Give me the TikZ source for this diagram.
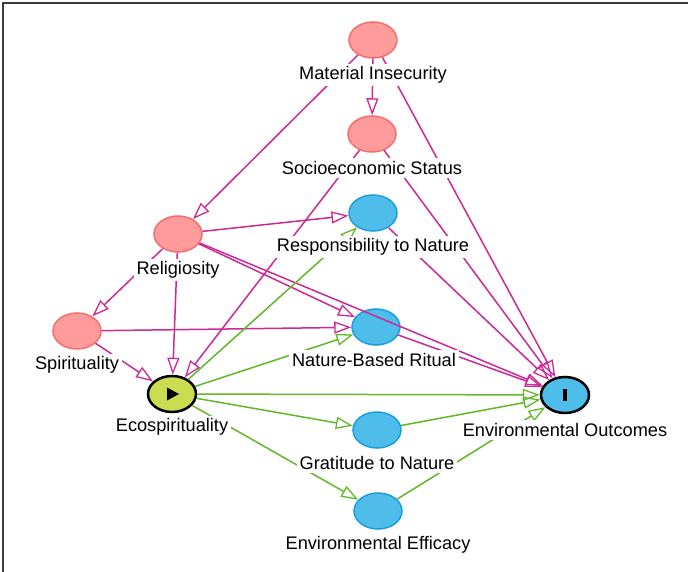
\documentclass[tikz,border=0pt]{standalone}
\usepackage{fontspec}
\setmainfont{Liberation Sans}
\usetikzlibrary{arrows.meta,shapes.geometric}
\definecolor{colBias}{RGB}{204,40,150}
\definecolor{colCausal}{RGB}{96,184,40}
\definecolor{colAnc}{RGB}{255,155,155}
\definecolor{colAncB}{RGB}{245,110,110}
\definecolor{colMed}{RGB}{78,189,233}
\definecolor{colMedB}{RGB}{28,158,220}
\definecolor{colExpo}{RGB}{202,220,80}
\definecolor{colFrame}{RGB}{60,60,60}
\begin{document}
\begin{tikzpicture}[x=1pt,y=-1pt,
  vtx/.style={ellipse,minimum width=48pt,minimum height=36pt,inner sep=0pt,line width=1.5pt},
  ancnode/.style={vtx,fill=colAnc,draw=colAncB},
  mednode/.style={vtx,fill=colMed,draw=colMedB},
  keynode/.style={vtx,draw=black,line width=2.5pt},
  lbl/.style={fill=white,inner sep=3pt,font=\fontsize{18.2}{21}\selectfont},
  edge/.style={line width=1.5pt,-{Triangle[open,length=17pt,width=12pt,line width=1.3pt]}},
  bias/.style={edge,draw=colBias},
  causal/.style={edge,draw=colCausal}]
\useasboundingbox (0,0) rectangle (688,572);
\draw[colFrame,line width=1.5pt] (3,572) -- (3,3) -- (688,3);

% vertices
\node[ancnode] (mi)  at (373,40)  {};
\node[ancnode] (ses) at (372,134) {};
\node[ancnode] (rel) at (178,234) {};
\node[ancnode] (spi) at (77,331)  {};
\node[mednode] (rtn) at (373,213) {};
\node[mednode] (nbr) at (376,327) {};
\node[mednode] (gtn) at (377,430) {};
\node[mednode] (ee)  at (378,511) {};
\node[keynode,fill=colExpo] (eco) at (172,394) {};
\node[keynode,fill=colMed]  (out) at (565,395) {};
\fill[black] ([shift={(-5,-6.5)}]eco.center) -- ++(12,6.5) -- ++(-12,6.5) -- cycle;
\fill[black] ([shift={(-2,-6)}]out.center) rectangle ++(4,12);

% biasing edges
\draw[bias] (mi) -- (ses);
\draw[bias] (mi) -- (rel);
\draw[bias] (mi) -- (out);
\draw[bias] (ses) -- (eco);
\draw[bias] (ses) -- (out);
\draw[bias] (rel) -- (rtn);
\draw[bias] (rel) -- (spi);
\draw[bias] (rel) -- (eco);
\draw[bias] (rel) -- (nbr);
\draw[bias] (rel) -- (out);
\draw[bias] (spi) -- (eco);
\draw[bias] (spi) -- (nbr);
\draw[bias] (rtn) -- (out);
\draw[bias] (nbr) -- (out);

% causal edges
\draw[causal] (eco) -- (rtn);
\draw[causal] (eco) -- (nbr);
\draw[causal] (eco) -- (out);
\draw[causal] (eco) -- (gtn);
\draw[causal] (eco) -- (ee);
\draw[causal] (gtn) -- (out);
\draw[causal] (ee) -- (out);

% labels
\node[lbl] (mil)  at (373,75)  {Material Insecurity};
\node[lbl] (sesl) at (372,168) {Socioeconomic Status};
\node[lbl] (rtnl) at (373,247) {Responsibility to Nature};
\node[lbl] (rell) at (178,270) {Religiosity};
\node[lbl] (spil) at (77,365)  {Spirituality};
\node[lbl] (nbrl) at (374,360) {Nature-Based Ritual};
\node[lbl] (ecol) at (172,427) {Ecospirituality};
\node[lbl] (outl) at (565,430) {Environmental Outcomes};
\node[lbl] (gtnl) at (377,463) {Gratitude to Nature};
\node[lbl] (eel)  at (378,545) {Environmental Efficacy};
\end{tikzpicture}
\end{document}
